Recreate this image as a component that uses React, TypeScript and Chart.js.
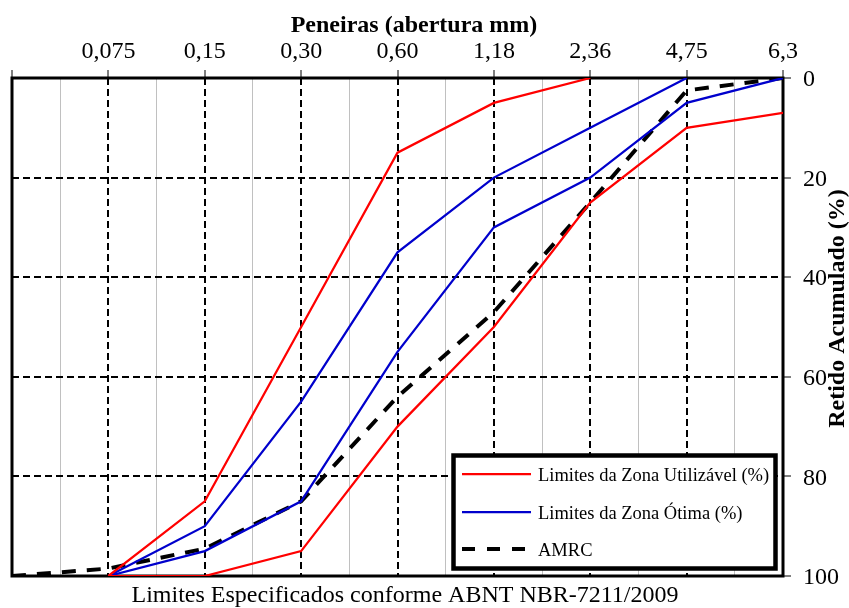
import React, { useEffect, useRef } from "react";
import { Chart, registerables } from "chart.js";

Chart.register(...registerables);

// ---- data ----
const sieveLabels = ["", "0,075", "0,15", "0,30", "0,60", "1,18", "2,36", "4,75", "6,3"];
const sievePositions = [0, 1, 2, 3, 4, 5, 6, 7, 8];
const utilUpper: (number | null)[] = [null, 100, 85, 50, 15, 5, 0, null, null];
const utilLower: (number | null)[] = [null, 100, 100, 95, 70, 50, 25, 10, 7];
const otimaUpper: (number | null)[] = [null, 100, 90, 65, 35, 20, 10, 0, null];
const otimaLower: (number | null)[] = [null, 100, 95, 85, 55, 30, 20, 5, 0];
const amrc: (number | null)[] = [100, 98.5, 94.5, 85, 64, 47, 25, 2.5, 0];
const yTicks = [0, 20, 40, 60, 80, 100];
const legendLabels = ["Limites da Zona Utilizável (%)", "Limites da Zona Ótima (%)", "AMRC"];
const xTitle = "Peneiras (abertura mm)";
const yTitle = "Retido Acumulado (%)";
const caption = "Limites Especificados conforme ABNT NBR-7211/2009";

const RED = "#FF0000";
const BLUE = "#0000CC";
const FONT = "'Liberation Serif', 'Times New Roman', serif";

function toPoints(values: (number | null)[]) {
  const pts: { x: number; y: number }[] = [];
  values.forEach((v, i) => {
    if (v !== null) pts.push({ x: sievePositions[i], y: v });
  });
  return pts;
}

const overlayPlugin = {
  id: "overlay",
  beforeDatasetsDraw(chart: any) {
    const { ctx, chartArea } = chart;
    ctx.save();
    ctx.strokeStyle = "#000";
    ctx.lineWidth = 3;
    ctx.setLineDash([]);
    ctx.strokeRect(chartArea.left, chartArea.top, chartArea.right - chartArea.left, chartArea.bottom - chartArea.top);
    ctx.restore();
  },
  afterDatasetsDraw(chart: any) {
    const { ctx } = chart;
    ctx.save();
    // legend box
    const bx = 453.5, by = 455.5, bw = 322, bh = 113;
    ctx.fillStyle = "#fff";
    ctx.fillRect(bx, by, bw, bh);
    ctx.strokeStyle = "#000";
    ctx.lineWidth = 4.5;
    ctx.setLineDash([]);
    ctx.strokeRect(bx, by, bw, bh);
    const entries = [
      { label: legendLabels[0], color: RED, width: 2.25, dash: [] as number[], y: 474 },
      { label: legendLabels[1], color: BLUE, width: 2.25, dash: [] as number[], y: 512 },
      { label: legendLabels[2], color: "#000", width: 4, dash: [13, 12], y: 549 },
    ];
    ctx.font = `18.5px ${FONT}`;
    ctx.textBaseline = "alphabetic";
    ctx.textAlign = "left";
    entries.forEach((e) => {
      ctx.beginPath();
      ctx.strokeStyle = e.color;
      ctx.lineWidth = e.width;
      ctx.setLineDash(e.dash);
      ctx.moveTo(462, e.y);
      ctx.lineTo(531, e.y);
      ctx.stroke();
      ctx.fillStyle = "#000";
      ctx.fillText(e.label, 538, e.y + 7);
    });
    ctx.restore();
  },
  afterDraw(chart: any) {
    const { ctx } = chart;
    ctx.save();
    ctx.fillStyle = "#000";
    ctx.textBaseline = "alphabetic";
    ctx.textAlign = "center";
    ctx.font = `bold 24px ${FONT}`;
    ctx.fillText(xTitle, 414, 32);
    ctx.font = `24px ${FONT}`;
    ctx.fillText(caption, 405, 602);
    ctx.translate(844, 308.5);
    ctx.rotate(-Math.PI / 2);
    ctx.font = `bold 24px ${FONT}`;
    ctx.fillText(yTitle, 0, 0);
    ctx.restore();
  },
};

export default function App() {
  const ref = useRef<HTMLCanvasElement | null>(null);
  useEffect(() => {
    if (!ref.current) return;
    const chart = new Chart(ref.current, {
      type: "line",
      data: {
        datasets: [
          { label: legendLabels[0], data: toPoints(utilUpper), borderColor: RED, borderWidth: 2.25, pointRadius: 0, fill: false, tension: 0 },
          { label: legendLabels[0], data: toPoints(utilLower), borderColor: RED, borderWidth: 2.25, pointRadius: 0, fill: false, tension: 0 },
          { label: legendLabels[1], data: toPoints(otimaUpper), borderColor: BLUE, borderWidth: 2.25, pointRadius: 0, fill: false, tension: 0 },
          { label: legendLabels[1], data: toPoints(otimaLower), borderColor: BLUE, borderWidth: 2.25, pointRadius: 0, fill: false, tension: 0 },
          { label: legendLabels[2], data: toPoints(amrc), borderColor: "#000", borderWidth: 4, borderDash: [14, 11], pointRadius: 0, fill: false, tension: 0 },
        ],
      },
      options: {
        animation: false,
        responsive: false,
        layout: { padding: { left: 12, right: 0, top: 0, bottom: 0 } },
        plugins: { legend: { display: false }, tooltip: { enabled: false } },
        scales: {
          x: {
            type: "linear",
            position: "top",
            min: 0,
            max: 8,
            afterBuildTicks: (scale: any) => {
              scale.ticks = sievePositions.map((v) => ({ value: v }));
            },
            afterFit: (scale: any) => {
              scale.height = 78;
            },
            ticks: {
              autoSkip: false,
              maxRotation: 0,
              color: "#000",
              font: { family: FONT, size: 24 },
              padding: 4,
              callback: (v: any) => sieveLabels[v as number] ?? "",
            },
            grid: {
              color: "#000",
              lineWidth: (c: any) => (c.index === 0 || c.index === 8 ? 0 : 2),
              tickColor: "#000",
              tickWidth: 1,
              tickLength: 8,
              drawTicks: true,
            },
            border: { display: false, dash: [7, 4] },
          },
          xMinor: {
            type: "linear",
            position: "bottom",
            min: 0,
            max: 8,
            afterBuildTicks: (scale: any) => {
              scale.ticks = sievePositions.slice(0, 8).map((v) => ({ value: v + 0.5 }));
            },
            afterFit: (scale: any) => {
              scale.height = 32;
            },
            ticks: { display: false },
            grid: { color: "#c0c0c0", lineWidth: 1, drawTicks: false },
            border: { display: false },
          },
          y: {
            type: "linear",
            position: "right",
            reverse: true,
            min: 0,
            max: 100,
            afterBuildTicks: (scale: any) => {
              scale.ticks = yTicks.map((v) => ({ value: v }));
            },
            afterFit: (scale: any) => {
              scale.width = 66;
            },
            ticks: {
              color: "#000",
              font: { family: FONT, size: 24 },
              padding: 12,
              labelOffset: 2,
            },
            grid: {
              color: "#000",
              lineWidth: (c: any) => (c.tick && (c.tick.value === 0 || c.tick.value === 100) ? 0 : 2),
              tickColor: "#000",
              tickWidth: 1,
              tickLength: 8,
            },
            border: { display: false, dash: [7, 4] },
          },
        },
      },
      plugins: [overlayPlugin],
    } as any);
    return () => chart.destroy();
  }, []);
  return (
    <div style={{ position: "absolute", left: 0, top: 0, width: 849, height: 608, background: "#fff" }}>
      <canvas ref={ref} width={849} height={608} style={{ display: "block" }} />
    </div>
  );
}
